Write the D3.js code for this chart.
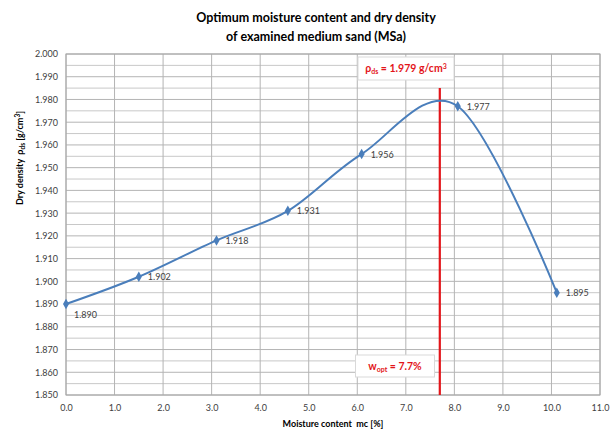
<!DOCTYPE html>
<html>
<head>
<meta charset="utf-8">
<script src="https://cdn.jsdelivr.net/npm/d3@7"></script>
<style>
  body { margin: 0; background: #fff; }
  text { font-family: Lato, "Open Sans", sans-serif; white-space: pre; }
</style>
</head>
<body>
<div id="chart"></div>
<script>
// measured points
var moisture = [0.0, 1.5, 3.1, 4.57, 6.09, 8.07, 10.11];
var density = [1.890, 1.902, 1.918, 1.931, 1.956, 1.977, 1.895];
var xTicks = [0, 1, 2, 3, 4, 5, 6, 7, 8, 9, 10, 11];
var yTicks = [1.85, 1.86, 1.87, 1.88, 1.89, 1.90, 1.91, 1.92, 1.93, 1.94, 1.95, 1.96, 1.97, 1.98, 1.99, 2.00];
var yMinor = [1.855, 1.865, 1.875, 1.885, 1.895, 1.905, 1.915, 1.925, 1.935, 1.945, 1.955, 1.965, 1.975, 1.985, 1.995];
var wOpt = 7.7;
var rhoMax = 1.979;
var optLineTop = 1.985;

var margin = { top: 54, right: 11, bottom: 37, left: 66 },
    width = 611 - margin.left - margin.right,
    height = 432 - margin.top - margin.bottom;

var svg = d3.select("#chart").append("svg")
    .attr("width", 611)
    .attr("height", 432);

var g = svg.append("g")
    .attr("transform", "translate(" + margin.left + "," + margin.top + ")");

var x = d3.scaleLinear().domain([0, 11]).range([0, width]);
var y = d3.scaleLinear().domain([1.85, 2.0]).range([height, 0]);

// grid
g.selectAll(".hminor").data(yMinor).enter().append("line")
    .attr("x1", 0).attr("x2", width)
    .attr("y1", function (d) { return y(d); })
    .attr("y2", function (d) { return y(d); })
    .attr("stroke", "#c8c8c8").attr("stroke-width", 1);

g.selectAll(".hmajor").data(yTicks).enter().append("line")
    .attr("x1", 0).attr("x2", width)
    .attr("y1", function (d) { return y(d); })
    .attr("y2", function (d) { return y(d); })
    .attr("stroke", "#b4b4b4").attr("stroke-width", 1);

g.selectAll(".vgrid").data(xTicks).enter().append("line")
    .attr("y1", 0).attr("y2", height)
    .attr("x1", function (d) { return x(d); })
    .attr("x2", function (d) { return x(d); })
    .attr("stroke", "#b4b4b4").attr("stroke-width", 1);

g.append("rect")
    .attr("width", width).attr("height", height)
    .attr("fill", "none").attr("stroke", "#a6a6a6");

// axes
var xAxis = g.append("g")
    .attr("transform", "translate(0," + height + ")")
    .call(d3.axisBottom(x).tickValues(xTicks).tickFormat(d3.format(".1f")).tickSize(0).tickPadding(10));
var yAxis = g.append("g")
    .call(d3.axisLeft(y).tickValues(yTicks).tickFormat(d3.format(".3f")).tickSize(0).tickPadding(8));
[xAxis, yAxis].forEach(function (a) {
    a.select(".domain").remove();
    a.selectAll("text").attr("font-size", 9).attr("fill", "#404040")
        .style("font-family", "Lato, sans-serif");
});

// optimum line
g.append("line")
    .attr("x1", x(wOpt)).attr("x2", x(wOpt))
    .attr("y1", y(optLineTop)).attr("y2", height)
    .attr("stroke", "#e3151a").attr("stroke-width", 2.2);

// curve
var line = d3.line()
    .x(function (d) { return x(d[0]); })
    .y(function (d) { return y(d[1]); })
    .curve(d3.curveCardinal.tension(0));

var pts = moisture.map(function (m, i) { return [m, density[i]]; });

g.append("path")
    .datum(pts)
    .attr("d", line)
    .attr("fill", "none")
    .attr("stroke", "#4a7ebb")
    .attr("stroke-width", 2);

g.selectAll(".pt").data(pts).enter().append("path")
    .attr("d", d3.symbol().type(d3.symbolDiamond).size(32))
    .attr("transform", function (d) { return "translate(" + x(d[0]) + "," + y(d[1]) + ")"; })
    .attr("fill", "#4a7ebb");

g.selectAll(".lbl").data(pts).enter().append("text")
    .attr("x", function (d, i) { return x(d[0]) + (i === 0 ? 8 : 9); })
    .attr("y", function (d, i) { return y(d[1]) + (i === 0 ? 14 : 3.5); })
    .attr("font-size", 9)
    .attr("fill", "#404040")
    .text(function (d) { return d3.format(".3f")(d[1]); });

// annotation boxes
function noteBox(cx, cy, w, h, build) {
    g.append("rect")
        .attr("x", cx - w / 2).attr("y", cy - h / 2)
        .attr("width", w).attr("height", h)
        .attr("fill", "#fff").attr("stroke", "#d9d9d9");
    var t = g.append("text")
        .attr("x", cx).attr("y", cy + 3.5)
        .attr("text-anchor", "middle")
        .attr("font-size", 10.5)
        .attr("font-weight", "bold")
        .attr("fill", "#e3151a");
    build(t);
}

noteBox(406 - margin.left, 68.5 - margin.top, 96, 23, function (t) {
    t.append("tspan").text("ρ");
    t.append("tspan").attr("font-size", 7).attr("dy", 2).text("ds");
    t.append("tspan").attr("dy", -2).text(" = " + d3.format(".3f")(rhoMax) + " g/cm");
    t.append("tspan").attr("font-size", 7).attr("dy", -3).text("3");
});

noteBox(395 - margin.left, 366 - margin.top, 79, 22, function (t) {
    t.append("tspan").text("w");
    t.append("tspan").attr("font-size", 7).attr("dy", 2).text("opt");
    t.append("tspan").attr("dy", -2).text(" = " + wOpt + "%");
});

// titles
svg.append("text")
    .attr("x", 316).attr("y", 22)
    .attr("text-anchor", "middle")
    .attr("font-size", 12.5).attr("font-weight", "bold").attr("fill", "#000")
    .text("Optimum moisture content and dry density");
svg.append("text")
    .attr("x", 316).attr("y", 41)
    .attr("text-anchor", "middle")
    .attr("font-size", 12.5).attr("font-weight", "bold").attr("fill", "#000")
    .text("of examined medium sand (MSa)");

svg.append("text")
    .attr("x", 333).attr("y", 427)
    .attr("text-anchor", "middle")
    .attr("font-size", 9).attr("font-weight", "bold").attr("fill", "#000")
    .text("Moisture content  mc [%]");

var yt = svg.append("text")
    .attr("transform", "translate(23,158) rotate(-90)")
    .attr("text-anchor", "middle")
    .attr("font-size", 9).attr("font-weight", "bold").attr("fill", "#000");
yt.append("tspan").text("Dry density  ρ");
yt.append("tspan").attr("font-size", 6.5).attr("dy", 2).text("ds");
yt.append("tspan").attr("dy", -2).text(" [g/cm");
yt.append("tspan").attr("font-size", 6.5).attr("dy", -3).text("3");
yt.append("tspan").attr("dy", 3).text("]");
</script>
</body>
</html>
